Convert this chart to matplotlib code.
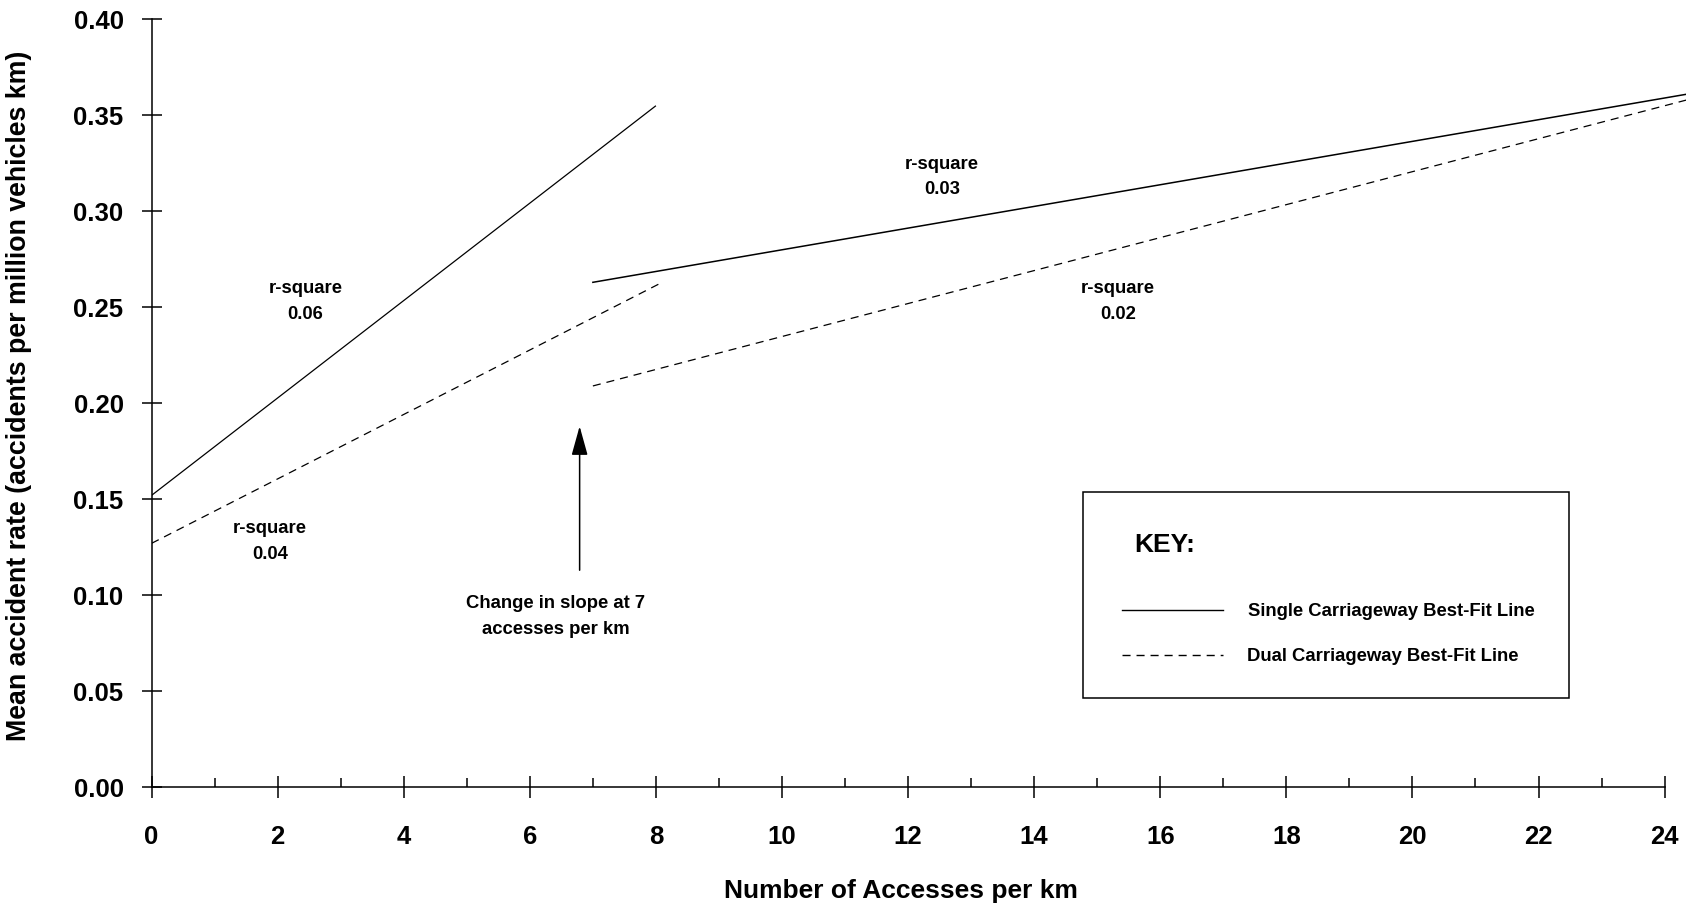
import matplotlib
matplotlib.use("Agg")
import matplotlib.pyplot as plt
from matplotlib.lines import Line2D
from matplotlib.patches import Rectangle

plt.rcParams['font.family'] = ['Liberation Sans', 'DejaVu Sans']
plt.rcParams['font.weight'] = 'bold'
plt.rcParams['lines.scale_dashes'] = False

# best-fit segments, below and above 7 accesses per km
low_x = [0, 8.0]
single_low = [0.152, 0.355]
dual_low_x = [0, 8.1]
dual_low = [0.127, 0.263]

high_x = [7.0, 24.35]
single_high = [0.263, 0.361]
dual_high = [0.209, 0.358]

x_ticks = list(range(0, 25, 2))
x_minor = list(range(1, 24, 2))
y_ticks = [0.0, 0.05, 0.10, 0.15, 0.20, 0.25, 0.30, 0.35, 0.40]

# r-square notes: (x, y, value)
rsq_notes = [(2.44, 0.253, "0.06"), (1.88, 0.128, "0.04"),
             (12.54, 0.318, "0.03"), (15.33, 0.253, "0.02")]

arrow_x = 6.79
arrow_from = 0.113
arrow_to = 0.188

dash = (0, (5.8, 4.3))

fig = plt.figure(figsize=(16.86, 9.09), dpi=100)
ax = fig.add_axes([0.0899, 0.1341, 0.9873 - 0.0899, 0.9787 - 0.1341])

ax.plot(low_x, single_low, color='black', lw=0.9, solid_capstyle='butt')
ax.plot(dual_low_x, dual_low, color='black', lw=0.9, linestyle=dash)
ax.plot(high_x, single_high, color='black', lw=1.1, clip_on=False)
ax.plot(high_x, dual_high, color='black', lw=0.9, linestyle=dash, clip_on=False)

ax.set_xlim(0, 24)
ax.set_ylim(0, 0.40)
ax.set_xticks(x_ticks)
ax.set_xticks(x_minor, minor=True)
ax.set_yticks(y_ticks)
ax.set_yticklabels([f"{v:.2f}" for v in y_ticks])

for s in ['top', 'right']:
    ax.spines[s].set_visible(False)
for s in ['left', 'bottom']:
    ax.spines[s].set_linewidth(1.1)

ax.tick_params(axis='x', which='major', direction='inout', length=16, width=1.1,
               labelsize=18.5, pad=19)
ax.tick_params(axis='x', which='minor', direction='in', length=6.5, width=1.1)
ax.tick_params(axis='y', which='major', direction='inout', length=14.4, width=1.1,
               labelsize=18.5, pad=13)

ax.set_xlabel("Number of Accesses per km", fontsize=19, fontweight='bold', labelpad=22)
ax.xaxis.label.set_x(0.495)
ax.set_ylabel("Mean accident rate (accidents per million vehicles km)",
              fontsize=19.3, fontweight='bold', labelpad=30)
ax.yaxis.label.set_y(0.51)

for x, y, val in rsq_notes:
    ax.text(x, y, "r-square\n" + val, ha='center', va='center', fontsize=13.3,
            fontweight='bold', linespacing=1.65)

ax.annotate("", xy=(arrow_x, arrow_to), xytext=(arrow_x, arrow_from),
            arrowprops=dict(arrowstyle='-|>,head_length=0.9,head_width=0.25',
                            mutation_scale=20, color='black', lw=1.1,
                            shrinkA=0, shrinkB=0))
ax.text(6.41, 0.0888, "Change in slope at 7\naccesses per km", ha='center',
        va='center', fontsize=13.3, fontweight='bold', linespacing=1.65)

# key box
fig.patches.append(Rectangle((0.6422, 0.2322), 0.9305 - 0.6422, 0.4582 - 0.2322,
                             transform=fig.transFigure, fill=False,
                             edgecolor='black', lw=1.1))
fig.text(0.6726, 0.4002, "KEY:", fontsize=19, fontweight='bold', va='center')
fig.lines.append(Line2D([0.6652, 0.7252], [0.3293, 0.3293], transform=fig.transFigure,
                        color='black', lw=1.0))
fig.lines.append(Line2D([0.6652, 0.7252], [0.2795, 0.2795], transform=fig.transFigure,
                        color='black', lw=1.0, linestyle=dash))
fig.text(0.7405, 0.3269, "Single Carriageway Best-Fit Line", fontsize=13.3,
         fontweight='bold', va='center')
fig.text(0.7398, 0.2773, "Dual Carriageway Best-Fit Line", fontsize=13.3,
         fontweight='bold', va='center')

fig.savefig("out.png", dpi=100)
